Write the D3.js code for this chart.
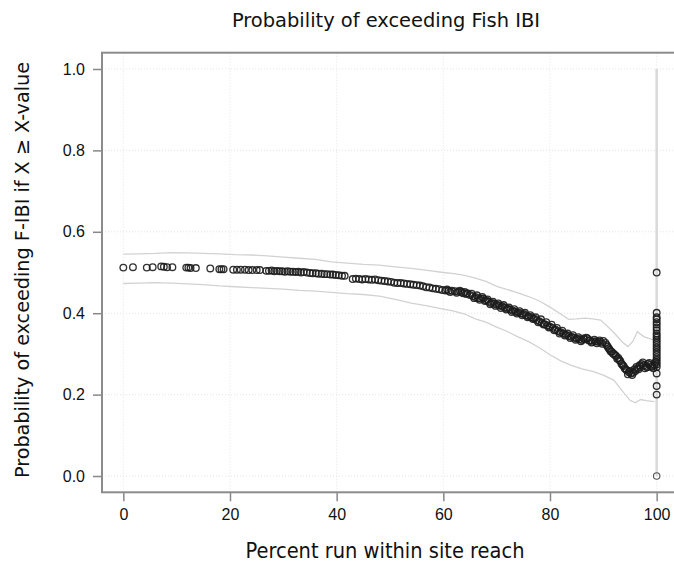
<!DOCTYPE html>
<html><head><meta charset="utf-8">
<script src="https://cdn.jsdelivr.net/npm/d3@7"></script>
<style>
body{margin:0;background:#fff;}
svg{display:block;}
.lbl{font-family:"Liberation Sans Narrow","DejaVu Sans Condensed","Liberation Sans",sans-serif;fill:#111;}
.tick text{font-family:"Liberation Sans",Arial,sans-serif;font-size:16px;fill:#111;}
</style></head>
<body>
<script>
const chartTitle = "Probability of exceeding Fish IBI";
const xTitle = "Percent run within site reach";
const yTitle = "Probability of exceeding F-IBI if X \u2265 X-value";
const xTicks = [0, 20, 40, 60, 80, 100];
const yTicks = [0, 0.2, 0.4, 0.6, 0.8, 1.0];

// estimated points: [percent run, probability]
const pointsX = [0,1.8,4.4,5.5,7.1,7.6,8.2,9.2,11.8,12.2,12.6,13.6,16.3,18,18.4,18.8,20.6,21.3,22,22.8,23.5,24.2,25,25.6,
26.8,27.3,27.8,28.3,28.8,29.3,29.8,30.3,30.8,31.3,31.8,32.3,32.8,33.3,33.8,34.4,35,35.5,36.1,36.6,37.2,37.7,38.2,38.8,39.3,39.8,40.4,41,41.5,
43,43.6,44.2,44.8,45.4,46,46.6,47.2,47.8,48.4,49,49.6,50.2,50.8,51.4,52,52.6,53.2,53.8,54.4,55,55.6,56.2,56.8,57.4,58,58.6,59.2,59.8,60.4,61,61.6,62.2,62.8,63.4,64,64.5,65,65.5,66,66.5,67,67.5,68,68.5,69,69.5,70,70.5,71,71.5,72,72.5,73,73.5,74,74.5,75,75.5,76,76.5,77,77.5,78,78.5,79,79.5,80,80.5,81,81.5,82,82.5,83,83.5,84,84.5,85,85.5,86,86.5,87,87.5,88,88.5,89,89.5,90,90.4,90.8,91.2,91.6,92,92.4,92.8,93.2,93.6,94,94.4,94.8,95.2,95.6,96,96.4,96.8,97.2,97.6,98,98.4,98.8,99.2,99.6,
60.7,61.3,62.5,63.1,63.7,64.3,65.3,65.8,66.3,66.8,67.3,67.8,68.3,68.8,69.3,69.8,70.3,70.8,71.3,71.8,72.3,72.8,73.3,73.8,74.3,74.8,75.3,75.8,76.3,76.8,77.3,77.8,78.3,78.8,79.3,79.8,80.3,80.8,81.3,81.8,82.3,82.8,83.3,83.8,84.3,84.8,85.3,85.8,86.3,86.8,87.3,87.8,88.3,88.8,89.3,89.8,90.6,91,91.4,91.8,92.2,92.6,93,93.4,93.8,94.2,94.6,95,95.4,95.8,96.2,96.6,97,97.4,97.8,98.2,98.6,99,99.4,99.8,
100,100,100,100,100,100,100,100,100,100,100,100,100,100,100,100,100,100,100,100,100,100,100,100,100,100];
const pointsY = [0.512,0.513,0.512,0.513,0.515,0.514,0.513,0.513,0.512,0.512,0.511,0.511,0.510,0.508,0.508,0.508,0.507,0.507,0.507,0.507,0.506,0.506,0.506,0.506,
0.504,0.504,0.505,0.503,0.504,0.503,0.503,0.502,0.503,0.502,0.502,0.501,0.502,0.500,0.501,0.500,0.499,0.498,0.498,0.497,0.497,0.496,0.496,0.495,0.495,0.494,0.493,0.492,0.492,
0.484,0.485,0.484,0.483,0.484,0.483,0.482,0.483,0.481,0.480,0.479,0.478,0.477,0.475,0.474,0.474,0.473,0.472,0.471,0.470,0.469,0.468,0.466,0.464,0.463,0.461,0.460,0.459,0.457,0.456,0.455,0.455,0.454,0.453,0.452,0.452,0.449,0.445,0.442,0.440,0.437,0.436,0.436,0.432,0.428,0.425,0.423,0.421,0.419,0.417,0.414,0.411,0.409,0.406,0.404,0.402,0.400,0.398,0.395,0.392,0.390,0.387,0.383,0.380,0.376,0.373,0.370,0.367,0.364,0.360,0.356,0.353,0.350,0.347,0.344,0.342,0.340,0.338,0.336,0.334,0.336,0.338,0.333,0.330,0.331,0.330,0.329,0.332,0.327,0.318,0.310,0.305,0.300,0.295,0.290,0.282,0.273,0.265,0.260,0.255,0.252,0.254,0.258,0.265,0.272,0.275,0.272,0.270,0.275,0.273,0.270,0.272,
0.458,0.452,0.450,0.455,0.449,0.447,0.448,0.437,0.444,0.433,0.440,0.430,0.434,0.422,0.428,0.418,0.424,0.413,0.420,0.409,0.414,0.403,0.410,0.399,0.405,0.395,0.401,0.390,0.395,0.386,0.390,0.378,0.385,0.372,0.378,0.365,0.372,0.358,0.364,0.350,0.357,0.345,0.350,0.339,0.346,0.335,0.341,0.331,0.338,0.340,0.333,0.328,0.335,0.326,0.333,0.325,0.322,0.314,0.306,0.301,0.297,0.288,0.285,0.276,0.270,0.262,0.250,0.258,0.248,0.262,0.268,0.262,0.268,0.279,0.265,0.267,0.278,0.268,0.265,0.280,
0.500,0.401,0.390,0.385,0.378,0.372,0.365,0.358,0.350,0.345,0.340,0.334,0.328,0.322,0.316,0.310,0.304,0.298,0.292,0.286,0.280,0.274,0.268,0.252,0.221,0.200];
const pointZeroX = [100];
const pointZeroY = [0.0];

// confidence band lines
const upperX = [0,3,6,9,12,15,18,21,24,27,30,33,36,39,42,45,48,51,54,57,60,62,64,66,68,70,72,74,76,78,80,82,83.5,85,86.5,88,89.5,91,92,93.5,94.6,95.5,96.4,97,97.7,98.5,99.6];
const upperY = [0.545,0.546,0.547,0.549,0.548,0.547,0.546,0.544,0.543,0.541,0.538,0.535,0.532,0.526,0.523,0.520,0.518,0.514,0.510,0.505,0.500,0.497,0.493,0.486,0.478,0.466,0.458,0.450,0.441,0.430,0.415,0.398,0.385,0.386,0.388,0.386,0.383,0.365,0.352,0.330,0.318,0.330,0.355,0.348,0.342,0.338,0.334];
const lowerX = [0,3,6,9,12,15,18,21,24,27,30,33,36,39,42,45,48,51,54,57,60,62,64,66,68,70,72,74,76,78,80,82,84,86,88,90,92,93.5,95,96,97,98,99.6];
const lowerY = [0.473,0.474,0.475,0.474,0.472,0.470,0.467,0.465,0.463,0.461,0.459,0.456,0.454,0.451,0.448,0.446,0.442,0.434,0.425,0.418,0.410,0.405,0.398,0.386,0.378,0.366,0.355,0.342,0.330,0.315,0.298,0.283,0.272,0.263,0.257,0.248,0.235,0.210,0.186,0.180,0.188,0.185,0.183];
const endIntervalX = [100, 100];
const endIntervalY = [0.0, 1.0];

const W = 674, H = 568;
const svg = d3.select("body").append("svg").attr("width", W).attr("height", H);

const x = d3.scaleLinear().domain([-4, 104]).range([102, 678]);
const y = d3.scaleLinear().domain([-0.04, 1.04]).range([492.3, 52.7]);

// grid
const grid = svg.append("g");
grid.selectAll("line.gx").data(xTicks).join("line")
  .attr("x1", d => x(d)).attr("x2", d => x(d)).attr("y1", y(1.04)).attr("y2", y(-0.04))
  .attr("stroke", "#e4e4e4").attr("stroke-dasharray", "1,2");
grid.selectAll("line.gy").data(yTicks).join("line")
  .attr("x1", x(-4)).attr("x2", x(104)).attr("y1", d => y(d)).attr("y2", d => y(d))
  .attr("stroke", "#e4e4e4").attr("stroke-dasharray", "1,2");

// end interval line
svg.append("line")
  .attr("x1", x(endIntervalX[0])).attr("x2", x(endIntervalX[1]))
  .attr("y1", y(endIntervalY[0])).attr("y2", y(endIntervalY[1]))
  .attr("stroke", "#d9d9d9").attr("stroke-width", 2.5);

const line = d3.line().x(d => x(d[0])).y(d => y(d[1]));
svg.append("path").datum(upperX.map((v, i) => [v, upperY[i]]))
  .attr("d", line).attr("fill", "none").attr("stroke", "#d2d2d2").attr("stroke-width", 1.3);
svg.append("path").datum(lowerX.map((v, i) => [v, lowerY[i]]))
  .attr("d", line).attr("fill", "none").attr("stroke", "#d2d2d2").attr("stroke-width", 1.3);

// points
const pts = pointsX.map((v, i) => [v, pointsY[i]]);
svg.append("g").selectAll("circle").data(pts).join("circle")
  .attr("cx", d => x(d[0])).attr("cy", d => y(d[1])).attr("r", 3.3)
  .attr("fill", "none").attr("stroke", "#1c1c1c").attr("stroke-width", 1.35).attr("stroke-opacity", 0.9);
svg.append("g").selectAll("circle").data(pointZeroX.map((v, i) => [v, pointZeroY[i]])).join("circle")
  .attr("cx", d => x(d[0])).attr("cy", d => y(d[1])).attr("r", 3.2)
  .attr("fill", "none").attr("stroke", "#555").attr("stroke-width", 1.1);

// axes
const ax = svg.append("g").attr("transform", `translate(0,${y(-0.04)})`)
  .call(d3.axisBottom(x).tickValues(xTicks).tickFormat(d3.format("d")).tickSize(9).tickPadding(7));
const ay = svg.append("g").attr("transform", `translate(${x(-4)},0)`)
  .call(d3.axisLeft(y).tickValues(yTicks).tickFormat(d3.format(".1f")).tickSize(9).tickPadding(8));
[ax, ay].forEach(g => {
  g.select(".domain").remove();
  g.selectAll(".tick line").attr("stroke", "#888").attr("stroke-width", 1.5);
});

// frame
svg.append("rect").attr("x", x(-4)).attr("y", y(1.04))
  .attr("width", x(104) - x(-4)).attr("height", y(-0.04) - y(1.04))
  .attr("fill", "none").attr("stroke", "#8c8c8c").attr("stroke-width", 2);

// titles
svg.append("text").attr("class", "lbl").attr("x", 386).attr("y", 27)
  .attr("text-anchor", "middle").attr("font-size", 19)
  .attr("textLength", 308).attr("lengthAdjust", "spacingAndGlyphs").text(chartTitle);
svg.append("text").attr("class", "lbl").attr("x", 385).attr("y", 558)
  .attr("text-anchor", "middle").attr("font-size", 21)
  .attr("textLength", 279).attr("lengthAdjust", "spacingAndGlyphs").text(xTitle);
svg.append("text").attr("class", "lbl")
  .attr("transform", "translate(29,270) rotate(-90)")
  .attr("text-anchor", "middle").attr("font-size", 20)
  .attr("textLength", 416).attr("lengthAdjust", "spacingAndGlyphs").text(yTitle);
</script>
</body></html>
